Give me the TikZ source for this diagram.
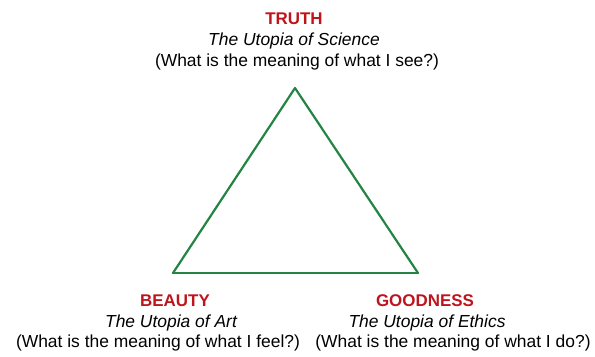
\documentclass[tikz,border=0pt]{standalone}
\usepackage{fontspec}
\setmainfont{Liberation Sans}
\usepackage{xcolor}
\usepackage{tikz}
\usetikzlibrary{positioning}

\definecolor{headred}{RGB}{190,20,28}
\definecolor{edgegreen}{RGB}{36,132,68}

\begin{document}
\begin{tikzpicture}[
    x=1bp, y=-1bp,
    head/.style={font=\fontsize{17}{20}\selectfont\bfseries, text=headred, anchor=base, inner sep=0pt},
    sub/.style={font=\fontsize{17.5}{20}\selectfont\itshape, anchor=base, inner sep=0pt},
    quest/.style={font=\fontsize{17.5}{20}\selectfont, anchor=base, inner sep=0pt},
    side/.style={draw=edgegreen, line width=2.2bp, line cap=round}
  ]
  \useasboundingbox (0,0) rectangle (595,356);
  % corners of the triangle
  \coordinate (apex) at (295,88);
  \coordinate (left) at (173,273);
  \coordinate (right) at (418,273);
  \draw[side] (apex) -- (left);
  \draw[side] (left) -- (right);
  \draw[side] (right) -- (apex);
  % top
  \node[head] (truth) at (294,24) {TRUTH};
  \node[sub] (truthsub) at (294,45) {The Utopia of Science};
  \node[quest] (truthq) at (297,66) {(What is the meaning of what I see?)};
  % bottom left
  \node[head] (beauty) at (175,306) {BEAUTY};
  \node[sub] (beautysub) at (171,327) {The Utopia of Art};
  \node[quest] (beautyq) at (158,347) {(What is the meaning of what I feel?)};
  % bottom right
  \node[head] (goodness) at (425,306) {GOODNESS};
  \node[sub] (goodsub) at (427,327) {The Utopia of Ethics};
  \node[quest] (goodq) at (453,347) {(What is the meaning of what I do?)};
\end{tikzpicture}
\end{document}
